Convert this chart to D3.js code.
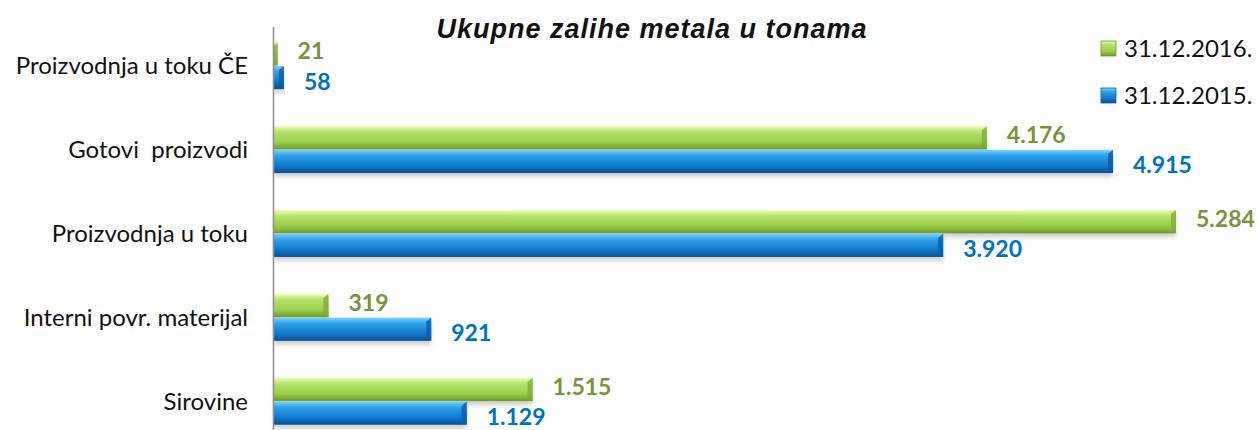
<!DOCTYPE html>
<meta charset="utf-8" />
<style>
  body { margin: 0; background: #fff; }
  .cat { font: 24px Lato, "Noto Sans", sans-serif; fill: #111; white-space: pre; }
  .val { font: bold 23px Lato, "Noto Sans", sans-serif; }
  .title { font: italic bold 27px "Liberation Sans", Arial, sans-serif; fill: #111; letter-spacing: 1px; }
  .leg { font: 24px Lato, "Noto Sans", sans-serif; fill: #111; }
</style>
<svg width="1258" height="430"></svg>
<script src="https://d3js.org/d3.v7.min.js"></script>
<script>
  var categories = [
    "Proizvodnja u toku ČE",
    "Gotovi  proizvodi",
    "Proizvodnja u toku",
    "Interni povr. materijal",
    "Sirovine"
  ];
  var series = ["31.12.2016.", "31.12.2015."];
  var values2016 = [21, 4176, 5284, 319, 1515];
  var values2015 = [58, 4915, 3920, 921, 1129];
  var colors = ["#77933c", "#0070c0"];

  var fmt = function(v) {
    return d3.format(",")(v).replace(/,/g, ".");
  };

  var svg = d3.select("svg");

  var defs = svg.append("defs");
  var grads = [
    ["#eaffb8", "#b5e36a", "#98cc47", "#6f9a2c"],
    ["#7ad3ff", "#2ea2ea", "#0f78cf", "#0a4f8e"]
  ];
  grads.forEach(function(g, i) {
    var lg = defs.append("linearGradient")
      .attr("id", "g" + i)
      .attr("x1", 0).attr("y1", 0).attr("x2", 0).attr("y2", 1);
    lg.append("stop").attr("offset", "0%").attr("stop-color", g[0]);
    lg.append("stop").attr("offset", "25%").attr("stop-color", g[1]);
    lg.append("stop").attr("offset", "70%").attr("stop-color", g[2]);
    lg.append("stop").attr("offset", "100%").attr("stop-color", g[3]);
  });
  var blur = defs.append("filter").attr("id", "sh")
    .attr("x", "-5%").attr("y", "-20%").attr("width", "110%").attr("height", "160%");
  blur.append("feGaussianBlur").attr("stdDeviation", 2);

  var x = d3.scaleLinear().domain([0, 5284]).range([274, 1176]);
  var y = d3.scaleBand().domain(categories).range([25, 442]).paddingInner(0.43).paddingOuter(0.2);
  var y1 = d3.scaleBand().domain(series).range([0, y.bandwidth()]).padding(0.02);

  var data = [];
  categories.forEach(function(c, i) {
    data.push({ cat: c, s: 0, v: values2016[i] });
    data.push({ cat: c, s: 1, v: values2015[i] });
  });

  var bars = svg.append("g");
  // shadow
  bars.selectAll("rect.shadow")
    .data(data)
    .join("rect")
    .attr("class", "shadow")
    .attr("x", x(0))
    .attr("y", d => y(d.cat) + y1(series[d.s]) + 4)
    .attr("width", d => Math.max(2, x(d.v) - x(0)))
    .attr("height", y1.bandwidth())
    .attr("fill", "#000")
    .attr("opacity", 0.18)
    .attr("filter", "url(#sh)");

  bars.selectAll("rect.bar")
    .data(data)
    .join("rect")
    .attr("class", "bar")
    .attr("x", x(0))
    .attr("y", d => y(d.cat) + y1(series[d.s]))
    .attr("width", d => Math.max(2, x(d.v) - x(0)))
    .attr("height", y1.bandwidth())
    .attr("fill", d => "url(#g" + d.s + ")");

  // bevel on bar ends
  bars.selectAll("path.cap")
    .data(data)
    .join("path")
    .attr("class", "cap")
    .attr("d", function(d) {
      var x1 = Math.max(x(0) + 2, x(d.v)), y0 = y(d.cat) + y1(series[d.s]), h = y1.bandwidth();
      var b = Math.min(5, x1 - x(0));
      return "M" + x1 + "," + y0 + "L" + (x1 - b) + "," + (y0 + 4) + "L" + (x1 - b) + "," + (y0 + h - 4) + "L" + x1 + "," + (y0 + h) + "Z";
    })
    .attr("fill", d => d.s ? "#0a5da8" : "#7fae36")
    .attr("opacity", 0.8);

  // axis line
  svg.append("line")
    .attr("x1", 273.5).attr("x2", 273.5)
    .attr("y1", 27).attr("y2", 430)
    .attr("stroke", "#8c8c8c").attr("stroke-width", 1.5);

  // category labels
  svg.append("g").selectAll("text")
    .data(categories)
    .join("text")
    .attr("class", "cat")
    .attr("x", 248)
    .attr("y", d => y(d) + y.bandwidth() / 2)
    .attr("dy", "0.35em")
    .attr("text-anchor", "end")
    .text(d => d);

  // value labels
  svg.append("g").selectAll("text")
    .data(data)
    .join("text")
    .attr("class", "val")
    .attr("fill", d => colors[d.s])
    .attr("x", d => x(d.v) + 20)
    .attr("y", d => y(d.cat) + y1(series[d.s]) + y1.bandwidth() / 2 + (d.s ? 4 : -3))
    .attr("dy", "0.35em")
    .text(d => fmt(d.v));

  // title
  svg.append("text")
    .attr("class", "title")
    .attr("x", 652).attr("y", 38)
    .attr("text-anchor", "middle")
    .text("Ukupne zalihe metala u tonama");

  // legend
  var leg = svg.append("g").selectAll("g")
    .data(series)
    .join("g")
    .attr("transform", (d, i) => "translate(1101," + (41 + i * 47) + ")");
  leg.append("rect")
    .attr("width", 15).attr("height", 15)
    .attr("fill", (d, i) => "url(#g" + i + ")")
    .attr("stroke", (d, i) => i ? "#0a5da8" : "#6f9a2c")
    .attr("stroke-width", 0.8);
  leg.append("text")
    .attr("class", "leg")
    .attr("x", 23).attr("y", 8)
    .attr("dy", "0.35em")
    .text(d => d);
</script>
